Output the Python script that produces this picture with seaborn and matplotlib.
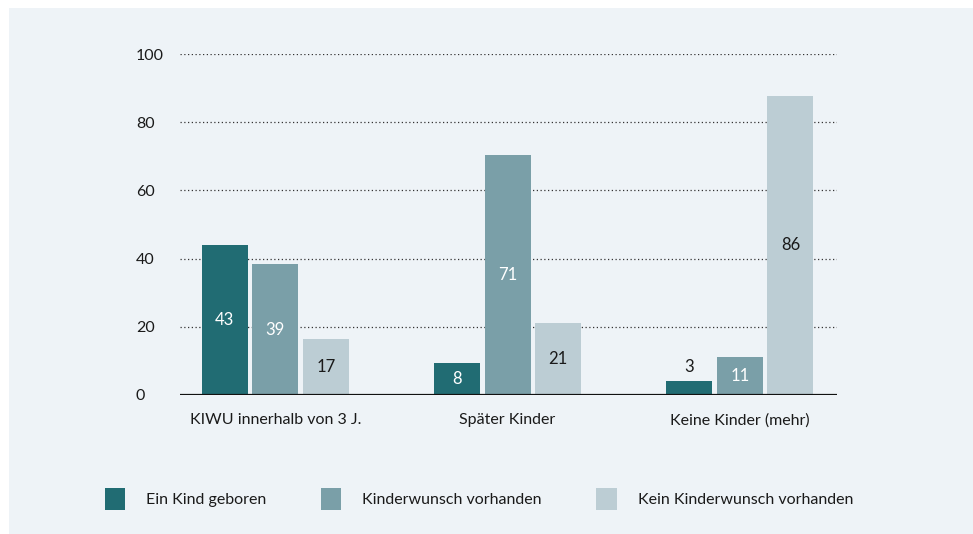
import pandas as pd
import matplotlib.pyplot as plt
import seaborn as sns
from matplotlib.patches import Rectangle

categories = ['KIWU innerhalb von 3 J.', 'Später Kinder', 'Keine Kinder (mehr)']
series = ['Ein Kind geboren', 'Kinderwunsch vorhanden', 'Kein Kinderwunsch vorhanden']
# bar heights as drawn and the printed labels
heights = {
    'Ein Kind geboren': [44.0, 9.4, 4.1],
    'Kinderwunsch vorhanden': [38.4, 70.4, 11.1],
    'Kein Kinderwunsch vorhanden': [16.4, 21.1, 87.7],
}
labels = {
    'Ein Kind geboren': ['43', '8', '3'],
    'Kinderwunsch vorhanden': ['39', '71', '11'],
    'Kein Kinderwunsch vorhanden': ['17', '21', '86'],
}
colors = ['#216c73', '#7a9fa8', '#bccdd4']
yticks = [0, 20, 40, 60, 80, 100]

rows = []
for s in series:
    for c, h in zip(categories, heights[s]):
        rows.append({'Gruppe': c, 'Serie': s, 'Wert': h})
df = pd.DataFrame(rows)

sns.set_style('white')
plt.rcParams['font.family'] = ['Lato', 'DejaVu Sans']
text_col = '#1a1a1a'
bg = '#eef3f7'
fs = 11.5

fig = plt.figure(figsize=(9.73, 5.34), dpi=100)
fig.patch.set_facecolor('white')
fig.patches.append(Rectangle((9 / 973, 0), 1, (534 - 8) / 534, transform=fig.transFigure,
                             facecolor=bg, edgecolor='none', zorder=-5))

ax = fig.add_axes([180 / 973, 1 - 395 / 534, 657 / 973, (395 - 54) / 534])
ax.set_facecolor('none')

sns.barplot(data=df, x='Gruppe', y='Wert', hue='Serie', order=categories, hue_order=series,
            palette=colors, width=0.653, gap=0.09, saturation=1, linewidth=0,
            ax=ax, legend=True)

ax.set_xlim(-0.41, 2.418)
ax.set_ylim(0, 100)
ax.set_yticks(yticks)
for y in yticks[1:]:
    ax.axhline(y, color='#333333', lw=0.9, ls=(0, (1, 2)), zorder=0)
ax.axhline(0, color='#111111', lw=1.6, zorder=3)
for sp in ax.spines.values():
    sp.set_visible(False)
ax.set_xlabel('')
ax.set_ylabel('')
ax.tick_params(axis='y', length=0, pad=31.7, labelsize=fs, labelcolor=text_col)
ax.tick_params(axis='x', length=0, pad=13, labelsize=fs, labelcolor=text_col)
for t in ax.get_yticklabels():
    t.set_horizontalalignment('left')

# value labels
for i, (s, cont) in enumerate(zip(series, ax.containers)):
    for bar, lab in zip(cont, labels[s]):
        x = bar.get_x() + bar.get_width() / 2
        h = bar.get_height()
        if h < 6:
            ax.text(x, h + 4.1, lab, ha='center', va='center', fontsize=12, color=text_col)
        else:
            col = 'white' if i < 2 else text_col
            ax.text(x, h / 2, lab, ha='center', va='center', fontsize=12, color=col)

handles, labs = ax.get_legend_handles_labels()
ax.get_legend().remove()
for hd in handles:
    hd.set_edgecolor('none')
fig.legend(handles, labs, loc='center', bbox_to_anchor=(0.492, 0.066), ncol=3, frameon=False,
           fontsize=fs, handlelength=1.3, handleheight=1.7, handletextpad=1.3,
           columnspacing=3.4, labelcolor=text_col)

fig.savefig('out.png', dpi=100, facecolor=fig.get_facecolor())
